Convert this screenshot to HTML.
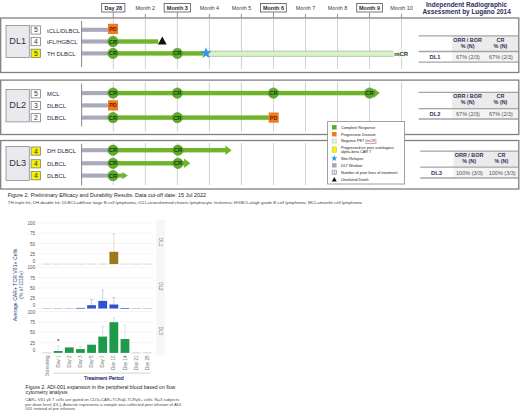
<!DOCTYPE html>
<html><head><meta charset="utf-8"><style>
html,body{margin:0;padding:0;background:#fff;width:520px;height:412px;overflow:hidden;}
svg{display:block;}
text{font-family:"Liberation Sans",sans-serif;}
</style></head><body>
<svg width="520" height="412" viewBox="0 0 520 412">
<rect x="101.70" y="3.6" width="23.20" height="8.4" fill="#fff" stroke="#3d3d3d" stroke-width="0.7"/>
<text x="113.30" y="9.85" font-family="Liberation Sans" font-size="5.5" font-weight="bold" fill="#1f1f38" text-anchor="middle">Day 28</text>
<line x1="113.30" y1="12.4" x2="113.30" y2="18" stroke="#777" stroke-width="0.8"/>
<text x="145.33" y="9.6" font-family="Liberation Sans" font-size="5.4" fill="#3c3c3c" text-anchor="middle">Month 2</text>
<line x1="145.33" y1="13.8" x2="145.33" y2="18" stroke="#777" stroke-width="0.8"/>
<rect x="164.11" y="3.6" width="26.50" height="8.4" fill="#fff" stroke="#3d3d3d" stroke-width="0.7"/>
<text x="177.36" y="9.85" font-family="Liberation Sans" font-size="5.5" font-weight="bold" fill="#1f1f38" text-anchor="middle">Month 3</text>
<line x1="177.36" y1="12.4" x2="177.36" y2="18" stroke="#777" stroke-width="0.8"/>
<text x="209.39" y="9.6" font-family="Liberation Sans" font-size="5.4" fill="#3c3c3c" text-anchor="middle">Month 4</text>
<line x1="209.39" y1="13.8" x2="209.39" y2="18" stroke="#777" stroke-width="0.8"/>
<text x="241.42" y="9.6" font-family="Liberation Sans" font-size="5.4" fill="#3c3c3c" text-anchor="middle">Month 5</text>
<line x1="241.42" y1="13.8" x2="241.42" y2="18" stroke="#777" stroke-width="0.8"/>
<rect x="260.65" y="3.6" width="25.60" height="8.4" fill="#fff" stroke="#3d3d3d" stroke-width="0.7"/>
<text x="273.45" y="9.85" font-family="Liberation Sans" font-size="5.5" font-weight="bold" fill="#1f1f38" text-anchor="middle">Month 6</text>
<line x1="273.45" y1="12.4" x2="273.45" y2="18" stroke="#777" stroke-width="0.8"/>
<text x="305.48" y="9.6" font-family="Liberation Sans" font-size="5.4" fill="#3c3c3c" text-anchor="middle">Month 7</text>
<line x1="305.48" y1="13.8" x2="305.48" y2="18" stroke="#777" stroke-width="0.8"/>
<text x="337.51" y="9.6" font-family="Liberation Sans" font-size="5.4" fill="#3c3c3c" text-anchor="middle">Month 8</text>
<line x1="337.51" y1="13.8" x2="337.51" y2="18" stroke="#777" stroke-width="0.8"/>
<rect x="356.74" y="3.6" width="25.60" height="8.4" fill="#fff" stroke="#3d3d3d" stroke-width="0.7"/>
<text x="369.54" y="9.85" font-family="Liberation Sans" font-size="5.5" font-weight="bold" fill="#1f1f38" text-anchor="middle">Month 9</text>
<line x1="369.54" y1="12.4" x2="369.54" y2="18" stroke="#777" stroke-width="0.8"/>
<text x="401.57" y="9.6" font-family="Liberation Sans" font-size="5.4" fill="#3c3c3c" text-anchor="middle">Month 10</text>
<line x1="401.57" y1="13.8" x2="401.57" y2="18" stroke="#777" stroke-width="0.8"/>
<text x="466.6" y="7.2" font-family="Liberation Sans" font-size="6.45" font-weight="bold" fill="#2f2d5e" text-anchor="middle">Independent Radiographic</text>
<text x="466.6" y="14.4" font-family="Liberation Sans" font-size="6.45" font-weight="bold" fill="#2f2d5e" text-anchor="middle">Assessment by Lugano 2014</text>
<rect x="0.7" y="18" width="518.1" height="54.50" fill="#fff" stroke="#808080" stroke-width="1.3"/>
<line x1="113.30" y1="18.5" x2="113.30" y2="68.8" stroke="#c9c9d2" stroke-width="0.9"/>
<line x1="145.33" y1="18.5" x2="145.33" y2="68.8" stroke="#c9c9d2" stroke-width="0.9"/>
<line x1="177.36" y1="18.5" x2="177.36" y2="68.8" stroke="#c9c9d2" stroke-width="0.9"/>
<line x1="209.39" y1="18.5" x2="209.39" y2="68.8" stroke="#c9c9d2" stroke-width="0.9"/>
<line x1="241.42" y1="18.5" x2="241.42" y2="68.8" stroke="#c9c9d2" stroke-width="0.9"/>
<line x1="273.45" y1="18.5" x2="273.45" y2="68.8" stroke="#c9c9d2" stroke-width="0.9"/>
<line x1="305.48" y1="18.5" x2="305.48" y2="68.8" stroke="#c9c9d2" stroke-width="0.9"/>
<line x1="337.51" y1="18.5" x2="337.51" y2="68.8" stroke="#c9c9d2" stroke-width="0.9"/>
<line x1="369.54" y1="18.5" x2="369.54" y2="68.8" stroke="#c9c9d2" stroke-width="0.9"/>
<line x1="401.57" y1="18.5" x2="401.57" y2="68.8" stroke="#c9c9d2" stroke-width="0.9"/>
<line x1="81.6" y1="21" x2="81.6" y2="67" stroke="#7a7a7a" stroke-width="0.9"/>
<rect x="6" y="25.5" width="23.3" height="32.00" fill="#eaeaee" stroke="#8a8a8a" stroke-width="0.8"/>
<text x="17.8" y="43.70" font-family="Liberation Sans" font-size="9.2" fill="#33334a" text-anchor="middle">DL1</text>
<rect x="31.1" y="25.9" width="9.4" height="8.2" fill="#fff" stroke="#7e7e7e" stroke-width="0.8"/>
<text x="35.8" y="32.45" font-family="Liberation Sans" font-size="6.8" fill="#333" text-anchor="middle">5</text>
<text x="47" y="32.60" font-family="Liberation Sans" font-size="5.9" fill="#2c2c3c">tCLL/DLBCL</text>
<rect x="31.1" y="37.5" width="9.4" height="8.2" fill="#fff" stroke="#7e7e7e" stroke-width="0.8"/>
<text x="35.8" y="44.05" font-family="Liberation Sans" font-size="6.8" fill="#333" text-anchor="middle">4</text>
<text x="47" y="44.30" font-family="Liberation Sans" font-size="5.9" fill="#2c2c3c">tFL/HGBCL</text>
<rect x="31.1" y="49.2" width="9.4" height="8.2" fill="#f4f400" stroke="#7e7e7e" stroke-width="0.8"/>
<text x="35.8" y="55.75" font-family="Liberation Sans" font-size="6.8" fill="#333" text-anchor="middle">5</text>
<text x="47" y="56.20" font-family="Liberation Sans" font-size="5.9" fill="#2c2c3c">TH DLBCL</text>
<rect x="452" y="35.90" width="66" height="15.60" fill="#ebebeb"/>
<rect x="452" y="51.50" width="66" height="10.70" fill="#f3f3f3"/>
<line x1="418.7" y1="35.90" x2="518" y2="35.90" stroke="#a5a5a5" stroke-width="1.3"/>
<line x1="418.7" y1="51.50" x2="518" y2="51.50" stroke="#a5a5a5" stroke-width="1.3"/>
<line x1="418.7" y1="62.20" x2="518" y2="62.20" stroke="#a5a5a5" stroke-width="1.3"/>
<text x="467.60" y="41.80" font-family="Liberation Sans" font-size="5.4" font-weight="bold" fill="#33335a" text-anchor="middle">ORR / BOR</text>
<text x="467.60" y="47.90" font-family="Liberation Sans" font-size="5.4" font-weight="bold" fill="#33335a" text-anchor="middle">% (N)</text>
<text x="500.50" y="41.80" font-family="Liberation Sans" font-size="5.4" font-weight="bold" fill="#33335a" text-anchor="middle">CR</text>
<text x="500.50" y="47.90" font-family="Liberation Sans" font-size="5.4" font-weight="bold" fill="#33335a" text-anchor="middle">% (N)</text>
<text x="435.00" y="58.85" font-family="Liberation Sans" font-size="5.8" font-weight="bold" fill="#33335a" text-anchor="middle">DL1</text>
<text x="468.00" y="58.85" font-family="Liberation Sans" font-size="5.5" fill="#555" text-anchor="middle">67% (2/3)</text>
<text x="501.00" y="58.85" font-family="Liberation Sans" font-size="5.5" fill="#555" text-anchor="middle">67% (2/3)</text>
<rect x="0.7" y="80.1" width="518.1" height="54.40" fill="#fff" stroke="#808080" stroke-width="1.3"/>
<line x1="113.30" y1="82" x2="113.30" y2="131.5" stroke="#c9c9d2" stroke-width="0.9"/>
<line x1="145.33" y1="82" x2="145.33" y2="131.5" stroke="#c9c9d2" stroke-width="0.9"/>
<line x1="177.36" y1="82" x2="177.36" y2="131.5" stroke="#c9c9d2" stroke-width="0.9"/>
<line x1="209.39" y1="82" x2="209.39" y2="131.5" stroke="#c9c9d2" stroke-width="0.9"/>
<line x1="241.42" y1="82" x2="241.42" y2="131.5" stroke="#c9c9d2" stroke-width="0.9"/>
<line x1="273.45" y1="82" x2="273.45" y2="131.5" stroke="#c9c9d2" stroke-width="0.9"/>
<line x1="305.48" y1="82" x2="305.48" y2="131.5" stroke="#c9c9d2" stroke-width="0.9"/>
<line x1="337.51" y1="82" x2="337.51" y2="131.5" stroke="#c9c9d2" stroke-width="0.9"/>
<line x1="369.54" y1="82" x2="369.54" y2="131.5" stroke="#c9c9d2" stroke-width="0.9"/>
<line x1="401.57" y1="82" x2="401.57" y2="131.5" stroke="#c9c9d2" stroke-width="0.9"/>
<line x1="81.6" y1="83.5" x2="81.6" y2="126.5" stroke="#7a7a7a" stroke-width="0.9"/>
<rect x="6" y="89.4" width="23.3" height="32.50" fill="#eaeaee" stroke="#8a8a8a" stroke-width="0.8"/>
<text x="17.8" y="107.85" font-family="Liberation Sans" font-size="9.2" fill="#33334a" text-anchor="middle">DL2</text>
<rect x="31.1" y="89.7" width="9.4" height="8.2" fill="#fff" stroke="#7e7e7e" stroke-width="0.8"/>
<text x="35.8" y="96.25" font-family="Liberation Sans" font-size="6.8" fill="#333" text-anchor="middle">5</text>
<text x="47" y="95.90" font-family="Liberation Sans" font-size="5.9" fill="#2c2c3c">MCL</text>
<rect x="31.1" y="101.5" width="9.4" height="8.2" fill="#fff" stroke="#7e7e7e" stroke-width="0.8"/>
<text x="35.8" y="108.05" font-family="Liberation Sans" font-size="6.8" fill="#333" text-anchor="middle">3</text>
<text x="47" y="108.20" font-family="Liberation Sans" font-size="5.9" fill="#2c2c3c">DLBCL</text>
<rect x="31.1" y="113.6" width="9.4" height="8.2" fill="#fff" stroke="#7e7e7e" stroke-width="0.8"/>
<text x="35.8" y="120.15" font-family="Liberation Sans" font-size="6.8" fill="#333" text-anchor="middle">2</text>
<text x="47" y="120.40" font-family="Liberation Sans" font-size="5.9" fill="#2c2c3c">DLBCL</text>
<rect x="452" y="92.40" width="66" height="16.20" fill="#ebebeb"/>
<rect x="452" y="108.60" width="66" height="10.40" fill="#f3f3f3"/>
<line x1="418.7" y1="92.40" x2="518" y2="92.40" stroke="#a5a5a5" stroke-width="1.3"/>
<line x1="418.7" y1="108.60" x2="518" y2="108.60" stroke="#a5a5a5" stroke-width="1.3"/>
<line x1="418.7" y1="119.00" x2="518" y2="119.00" stroke="#a5a5a5" stroke-width="1.3"/>
<text x="467.60" y="98.30" font-family="Liberation Sans" font-size="5.4" font-weight="bold" fill="#33335a" text-anchor="middle">ORR / BOR</text>
<text x="467.60" y="104.40" font-family="Liberation Sans" font-size="5.4" font-weight="bold" fill="#33335a" text-anchor="middle">% (N)</text>
<text x="500.50" y="98.30" font-family="Liberation Sans" font-size="5.4" font-weight="bold" fill="#33335a" text-anchor="middle">CR</text>
<text x="500.50" y="104.40" font-family="Liberation Sans" font-size="5.4" font-weight="bold" fill="#33335a" text-anchor="middle">% (N)</text>
<text x="435.00" y="115.80" font-family="Liberation Sans" font-size="5.8" font-weight="bold" fill="#33335a" text-anchor="middle">DL2</text>
<text x="468.00" y="115.80" font-family="Liberation Sans" font-size="5.5" fill="#555" text-anchor="middle">67% (2/3)</text>
<text x="501.00" y="115.80" font-family="Liberation Sans" font-size="5.5" fill="#555" text-anchor="middle">67% (2/3)</text>
<rect x="0.7" y="140.5" width="518.1" height="48.50" fill="#fff" stroke="#808080" stroke-width="1.3"/>
<line x1="113.30" y1="143" x2="113.30" y2="185" stroke="#c9c9d2" stroke-width="0.9"/>
<line x1="145.33" y1="143" x2="145.33" y2="185" stroke="#c9c9d2" stroke-width="0.9"/>
<line x1="177.36" y1="143" x2="177.36" y2="185" stroke="#c9c9d2" stroke-width="0.9"/>
<line x1="209.39" y1="143" x2="209.39" y2="185" stroke="#c9c9d2" stroke-width="0.9"/>
<line x1="241.42" y1="143" x2="241.42" y2="185" stroke="#c9c9d2" stroke-width="0.9"/>
<line x1="273.45" y1="143" x2="273.45" y2="185" stroke="#c9c9d2" stroke-width="0.9"/>
<line x1="305.48" y1="143" x2="305.48" y2="185" stroke="#c9c9d2" stroke-width="0.9"/>
<line x1="337.51" y1="143" x2="337.51" y2="185" stroke="#c9c9d2" stroke-width="0.9"/>
<line x1="369.54" y1="143" x2="369.54" y2="185" stroke="#c9c9d2" stroke-width="0.9"/>
<line x1="401.57" y1="143" x2="401.57" y2="185" stroke="#c9c9d2" stroke-width="0.9"/>
<line x1="81.6" y1="143.8" x2="81.6" y2="185.4" stroke="#7a7a7a" stroke-width="0.9"/>
<rect x="6" y="146.4" width="23.3" height="34.20" fill="#eaeaee" stroke="#8a8a8a" stroke-width="0.8"/>
<text x="17.8" y="165.70" font-family="Liberation Sans" font-size="9.2" fill="#33334a" text-anchor="middle">DL3</text>
<rect x="31.1" y="147" width="9.4" height="8.2" fill="#f4f400" stroke="#7e7e7e" stroke-width="0.8"/>
<text x="35.8" y="153.55" font-family="Liberation Sans" font-size="6.8" fill="#333" text-anchor="middle">4</text>
<text x="47" y="153.00" font-family="Liberation Sans" font-size="5.9" fill="#2c2c3c">DH DLBCL</text>
<rect x="31.1" y="159.7" width="9.4" height="8.2" fill="#f4f400" stroke="#7e7e7e" stroke-width="0.8"/>
<text x="35.8" y="166.25" font-family="Liberation Sans" font-size="6.8" fill="#333" text-anchor="middle">4</text>
<text x="47" y="166.10" font-family="Liberation Sans" font-size="5.9" fill="#2c2c3c">DLBCL</text>
<rect x="31.1" y="171.6" width="9.4" height="8.2" fill="#f4f400" stroke="#7e7e7e" stroke-width="0.8"/>
<text x="35.8" y="178.15" font-family="Liberation Sans" font-size="6.8" fill="#333" text-anchor="middle">4</text>
<text x="47" y="178.40" font-family="Liberation Sans" font-size="5.9" fill="#2c2c3c">DLBCL</text>
<rect x="453.5" y="151.10" width="64.5" height="16.00" fill="#ebebeb"/>
<rect x="453.5" y="167.10" width="64.5" height="10.90" fill="#f3f3f3"/>
<line x1="420.2" y1="151.10" x2="518" y2="151.10" stroke="#a5a5a5" stroke-width="1.3"/>
<line x1="420.2" y1="167.10" x2="518" y2="167.10" stroke="#a5a5a5" stroke-width="1.3"/>
<line x1="420.2" y1="178.00" x2="518" y2="178.00" stroke="#a5a5a5" stroke-width="1.3"/>
<text x="469.10" y="157.00" font-family="Liberation Sans" font-size="5.4" font-weight="bold" fill="#33335a" text-anchor="middle">ORR / BOR</text>
<text x="469.10" y="163.10" font-family="Liberation Sans" font-size="5.4" font-weight="bold" fill="#33335a" text-anchor="middle">% (N)</text>
<text x="501.40" y="157.00" font-family="Liberation Sans" font-size="5.4" font-weight="bold" fill="#33335a" text-anchor="middle">CR</text>
<text x="501.40" y="163.10" font-family="Liberation Sans" font-size="5.4" font-weight="bold" fill="#33335a" text-anchor="middle">% (N)</text>
<text x="436.50" y="174.55" font-family="Liberation Sans" font-size="5.8" font-weight="bold" fill="#33335a" text-anchor="middle">DL3</text>
<text x="469.50" y="174.55" font-family="Liberation Sans" font-size="5.5" fill="#555" text-anchor="middle">100% (3/3)</text>
<text x="502.20" y="174.55" font-family="Liberation Sans" font-size="5.5" fill="#555" text-anchor="middle">100% (3/3)</text>
<rect x="82" y="27.75" width="26" height="4.1" fill="#a9a9bb"/>
<rect x="108.00" y="23.80" width="10" height="10.2" fill="#f07b1e"/>
<text x="113.00" y="30.80" font-family="Liberation Sans" font-size="5.5" font-weight="bold" fill="#6e1800" text-anchor="middle">PD</text>
<rect x="82" y="39.45" width="26" height="4.1" fill="#a9a9bb"/>
<rect x="113.30" y="39.30" width="44.90" height="4.4" fill="#6fb42a"/>
<circle cx="113.00" cy="41.50" r="5.15" fill="#5fab2b" stroke="#4b9420" stroke-width="0.6"/>
<text x="113.00" y="43.55" font-family="Liberation Sans" font-size="5.8" font-weight="bold" fill="#123a05" text-anchor="middle">CR</text>
<polygon points="157.9,44.6 162.3,36.6 166.7,44.6" fill="#111"/>
<rect x="82" y="51.35" width="26" height="4.1" fill="#a9a9bb"/>
<rect x="207" y="51.1" width="187" height="5.3" fill="#d9f2c6"/>
<line x1="207" y1="51.1" x2="394" y2="51.1" stroke="#555" stroke-width="0.6" stroke-dasharray="0.8 0.8"/>
<line x1="207" y1="56.4" x2="394" y2="56.4" stroke="#555" stroke-width="0.6" stroke-dasharray="0.8 0.8"/>
<rect x="113.30" y="51.20" width="89.70" height="4.4" fill="#6fb42a"/>
<circle cx="113.00" cy="53.40" r="5.15" fill="#5fab2b" stroke="#4b9420" stroke-width="0.6"/>
<text x="113.00" y="55.45" font-family="Liberation Sans" font-size="5.8" font-weight="bold" fill="#123a05" text-anchor="middle">CR</text>
<circle cx="177.36" cy="53.40" r="5.15" fill="#5fab2b" stroke="#4b9420" stroke-width="0.6"/>
<text x="177.36" y="55.45" font-family="Liberation Sans" font-size="5.8" font-weight="bold" fill="#123a05" text-anchor="middle">CR</text>
<circle cx="401.57" cy="53.40" r="5" fill="#eef8e6"/>
<text x="401.2" y="55.80" font-family="Liberation Sans" font-size="6" font-weight="bold" fill="#333" text-anchor="middle">mCR</text>
<polygon points="206.00,47.70 207.38,51.20 211.14,51.43 208.23,53.83 209.17,57.47 206.00,55.45 202.83,57.47 203.77,53.83 200.86,51.43 204.62,51.20" fill="#2c9be0" stroke="#2a7fc0" stroke-width="0.3"/>
<rect x="82" y="91.05" width="26" height="4.1" fill="#a9a9bb"/>
<rect x="113.30" y="90.90" width="260.80" height="4.4" fill="#6fb42a"/>
<polygon points="373.60,88.30 379.80,93.10 373.60,97.90" fill="#6fb42a"/>
<circle cx="113.00" cy="93.10" r="5.15" fill="#5fab2b" stroke="#4b9420" stroke-width="0.6"/>
<text x="113.00" y="95.15" font-family="Liberation Sans" font-size="5.8" font-weight="bold" fill="#123a05" text-anchor="middle">CR</text>
<circle cx="177.36" cy="93.10" r="5.15" fill="#5fab2b" stroke="#4b9420" stroke-width="0.6"/>
<text x="177.36" y="95.15" font-family="Liberation Sans" font-size="5.8" font-weight="bold" fill="#123a05" text-anchor="middle">CR</text>
<circle cx="273.45" cy="93.10" r="5.15" fill="#5fab2b" stroke="#4b9420" stroke-width="0.6"/>
<text x="273.45" y="95.15" font-family="Liberation Sans" font-size="5.8" font-weight="bold" fill="#123a05" text-anchor="middle">CR</text>
<circle cx="369.54" cy="93.10" r="5.15" fill="#5fab2b" stroke="#4b9420" stroke-width="0.6"/>
<text x="369.54" y="95.15" font-family="Liberation Sans" font-size="5.8" font-weight="bold" fill="#123a05" text-anchor="middle">CR</text>
<rect x="82" y="103.35" width="26" height="4.1" fill="#a9a9bb"/>
<rect x="108.00" y="100.30" width="10" height="10.2" fill="#f07b1e"/>
<text x="113.00" y="107.30" font-family="Liberation Sans" font-size="5.5" font-weight="bold" fill="#6e1800" text-anchor="middle">PD</text>
<rect x="82" y="115.55" width="26" height="4.1" fill="#a9a9bb"/>
<rect x="113.30" y="115.40" width="156.15" height="4.4" fill="#6fb42a"/>
<circle cx="113.00" cy="117.60" r="5.15" fill="#5fab2b" stroke="#4b9420" stroke-width="0.6"/>
<text x="113.00" y="119.65" font-family="Liberation Sans" font-size="5.8" font-weight="bold" fill="#123a05" text-anchor="middle">CR</text>
<circle cx="177.36" cy="117.60" r="5.15" fill="#5fab2b" stroke="#4b9420" stroke-width="0.6"/>
<text x="177.36" y="119.65" font-family="Liberation Sans" font-size="5.8" font-weight="bold" fill="#123a05" text-anchor="middle">CR</text>
<rect x="268.65" y="112.50" width="10" height="10.2" fill="#f07b1e"/>
<text x="273.65" y="119.50" font-family="Liberation Sans" font-size="5.5" font-weight="bold" fill="#6e1800" text-anchor="middle">PD</text>
<rect x="82" y="148.15" width="26" height="4.1" fill="#a9a9bb"/>
<rect x="113.30" y="148.00" width="112.60" height="4.4" fill="#6fb42a"/>
<polygon points="225.40,145.40 231.60,150.20 225.40,155.00" fill="#6fb42a"/>
<circle cx="113.00" cy="150.20" r="5.15" fill="#5fab2b" stroke="#4b9420" stroke-width="0.6"/>
<text x="113.00" y="152.25" font-family="Liberation Sans" font-size="5.8" font-weight="bold" fill="#123a05" text-anchor="middle">CR</text>
<circle cx="177.96" cy="150.20" r="5.15" fill="#5fab2b" stroke="#4b9420" stroke-width="0.6"/>
<text x="177.96" y="152.25" font-family="Liberation Sans" font-size="5.8" font-weight="bold" fill="#123a05" text-anchor="middle">CR</text>
<rect x="82" y="161.25" width="26" height="4.1" fill="#a9a9bb"/>
<rect x="113.30" y="161.10" width="71.30" height="4.4" fill="#6fb42a"/>
<polygon points="184.10,158.50 190.30,163.30 184.10,168.10" fill="#6fb42a"/>
<circle cx="113.00" cy="163.30" r="5.15" fill="#5fab2b" stroke="#4b9420" stroke-width="0.6"/>
<text x="113.00" y="165.35" font-family="Liberation Sans" font-size="5.8" font-weight="bold" fill="#123a05" text-anchor="middle">CR</text>
<circle cx="177.96" cy="163.30" r="5.15" fill="#5fab2b" stroke="#4b9420" stroke-width="0.6"/>
<text x="177.96" y="165.35" font-family="Liberation Sans" font-size="5.8" font-weight="bold" fill="#123a05" text-anchor="middle">CR</text>
<rect x="82" y="173.55" width="26" height="4.1" fill="#a9a9bb"/>
<rect x="113.30" y="173.60" width="9.50" height="4.0" fill="#6fb42a"/>
<polygon points="122.30,172.00 127.90,175.60 122.30,179.20" fill="#6fb42a"/>
<circle cx="113.00" cy="175.60" r="5.15" fill="#5fab2b" stroke="#4b9420" stroke-width="0.6"/>
<text x="113.00" y="177.65" font-family="Liberation Sans" font-size="5.8" font-weight="bold" fill="#123a05" text-anchor="middle">CR</text>
<rect x="327.6" y="121.6" width="77.0" height="62.4" fill="#fff" stroke="#8a8a8a" stroke-width="0.8"/>
<rect x="332" y="125.10" width="4.6" height="4.4" fill="#5aa82c"/>
<text x="340.9" y="128.65" font-family="Liberation Sans" font-size="3.8" fill="#222">Complete Response</text>
<rect x="332" y="132.00" width="4.6" height="4.4" fill="#f07b1e"/>
<text x="340.9" y="135.55" font-family="Liberation Sans" font-size="3.8" fill="#222">Progressive Disease</text>
<rect x="332.2" y="139.10" width="4.2" height="4.0" fill="#e6f6d8" stroke="#777" stroke-width="0.4" stroke-dasharray="0.6 0.4"/>
<text x="340.9" y="142.45" font-family="Liberation Sans" font-size="3.8" fill="#222">Negative PET <tspan fill="#7a2020" text-decoration="underline">(mCR)</tspan></text>
<rect x="332" y="146.90" width="4.8" height="5.6" fill="#f4f400" stroke="#999" stroke-width="0.3"/>
<text x="340.9" y="149.05" font-family="Liberation Sans" font-size="3.8" fill="#222">Progressed on prior autologous</text>
<text x="340.9" y="152.90" font-family="Liberation Sans" font-size="3.8" fill="#222">alpha-beta CAR T</text>
<polygon points="334.30,155.10 335.12,157.17 337.34,157.31 335.63,158.73 336.18,160.89 334.30,159.70 332.42,160.89 332.97,158.73 331.26,157.31 333.48,157.17" fill="#2c9be0"/>
<text x="340.9" y="159.65" font-family="Liberation Sans" font-size="3.8" fill="#222">Skin Relapse</text>
<rect x="332" y="163.10" width="4.6" height="4.4" fill="#a9a9bb"/>
<text x="340.9" y="166.65" font-family="Liberation Sans" font-size="3.8" fill="#222">DLT Window</text>
<rect x="332.1" y="170.10" width="4.4" height="4.4" fill="#fff" stroke="#666" stroke-width="0.5"/>
<text x="334.3" y="173.50" font-family="Liberation Sans" font-size="3.4" fill="#444" text-anchor="middle">X</text>
<text x="340.9" y="173.65" font-family="Liberation Sans" font-size="3.8" fill="#222">Number of prior lines of treatment</text>
<polygon points="331.8,181.50 334.3,176.90 336.8,181.50" fill="#111"/>
<text x="340.9" y="180.65" font-family="Liberation Sans" font-size="3.8" fill="#222">Unrelated Death</text>
<text x="7.8" y="196.7" font-family="Liberation Sans" font-size="5.42" fill="#222">Figure 2. Preliminary Efficacy and Durability Results. Data cut-off date: 15 Jul 2022</text>
<text x="7.8" y="204.0" font-family="Liberation Sans" font-size="4.39" fill="#444">TH-triple hit, DH-double hit; DLBCL=diffuse large B cell lymphoma, tCLL=transformed chronic lymphocytic leukemia; HGBCL=high grade B cell lymphoma; MCL=mantle cell lymphoma</text>
<rect x="37.5" y="220.50" width="115.50" height="45.60" fill="#fff"/>
<line x1="37.5" y1="264.10" x2="153.0" y2="264.10" stroke="#efefef" stroke-width="0.6"/>
<line x1="37.5" y1="253.83" x2="153.0" y2="253.83" stroke="#efefef" stroke-width="0.6"/>
<line x1="37.5" y1="243.55" x2="153.0" y2="243.55" stroke="#efefef" stroke-width="0.6"/>
<line x1="37.5" y1="233.28" x2="153.0" y2="233.28" stroke="#efefef" stroke-width="0.6"/>
<line x1="37.5" y1="223.00" x2="153.0" y2="223.00" stroke="#efefef" stroke-width="0.6"/>
<line x1="37.5" y1="258.96" x2="153.0" y2="258.96" stroke="#f7f7f7" stroke-width="0.4"/>
<line x1="37.5" y1="248.69" x2="153.0" y2="248.69" stroke="#f7f7f7" stroke-width="0.4"/>
<line x1="37.5" y1="238.41" x2="153.0" y2="238.41" stroke="#f7f7f7" stroke-width="0.4"/>
<line x1="37.5" y1="228.14" x2="153.0" y2="228.14" stroke="#f7f7f7" stroke-width="0.4"/>
<text x="35.2" y="225.00" font-family="Liberation Sans" font-size="4.6" fill="#555" text-anchor="end">100</text>
<text x="35.2" y="235.28" font-family="Liberation Sans" font-size="4.6" fill="#555" text-anchor="end">75</text>
<text x="35.2" y="245.55" font-family="Liberation Sans" font-size="4.6" fill="#555" text-anchor="end">50</text>
<text x="35.2" y="255.83" font-family="Liberation Sans" font-size="4.6" fill="#555" text-anchor="end">25</text>
<text x="35.2" y="263.00" font-family="Liberation Sans" font-size="4.6" fill="#555" text-anchor="end">0</text>
<line x1="42.60" y1="264.10" x2="51.40" y2="264.10" stroke="#c4bfa8" stroke-width="0.55"/>
<line x1="53.74" y1="264.10" x2="62.54" y2="264.10" stroke="#c4bfa8" stroke-width="0.55"/>
<line x1="64.88" y1="264.10" x2="73.68" y2="264.10" stroke="#c4bfa8" stroke-width="0.55"/>
<line x1="76.02" y1="264.10" x2="84.82" y2="264.10" stroke="#c4bfa8" stroke-width="0.55"/>
<line x1="87.16" y1="264.10" x2="95.96" y2="264.10" stroke="#c4bfa8" stroke-width="0.55"/>
<line x1="98.30" y1="264.10" x2="107.10" y2="264.10" stroke="#c4bfa8" stroke-width="0.55"/>
<line x1="120.58" y1="264.10" x2="129.38" y2="264.10" stroke="#c4bfa8" stroke-width="0.55"/>
<line x1="131.72" y1="264.10" x2="140.52" y2="264.10" stroke="#c4bfa8" stroke-width="0.55"/>
<line x1="142.86" y1="264.10" x2="151.66" y2="264.10" stroke="#c4bfa8" stroke-width="0.55"/>
<line x1="113.84" y1="233.80" x2="113.84" y2="251.80" stroke="#d9cc9c" stroke-width="0.6"/>
<line x1="112.44" y1="233.80" x2="115.24" y2="233.80" stroke="#d9cc9c" stroke-width="0.6"/>
<rect x="109.44" y="251.80" width="8.8" height="12.30" fill="#9a7a1c"/>
<rect x="156.3" y="220.00" width="8.4" height="46.60" fill="#f6f6f6"/>
<text transform="translate(159.2 242.05) rotate(90)" font-family="Liberation Sans" font-size="4.6" fill="#666" text-anchor="middle">DL1</text>
<rect x="37.5" y="264.90" width="115.50" height="45.60" fill="#fff"/>
<line x1="37.5" y1="308.50" x2="153.0" y2="308.50" stroke="#efefef" stroke-width="0.6"/>
<line x1="37.5" y1="298.23" x2="153.0" y2="298.23" stroke="#efefef" stroke-width="0.6"/>
<line x1="37.5" y1="287.95" x2="153.0" y2="287.95" stroke="#efefef" stroke-width="0.6"/>
<line x1="37.5" y1="277.67" x2="153.0" y2="277.67" stroke="#efefef" stroke-width="0.6"/>
<line x1="37.5" y1="267.40" x2="153.0" y2="267.40" stroke="#efefef" stroke-width="0.6"/>
<line x1="37.5" y1="303.36" x2="153.0" y2="303.36" stroke="#f7f7f7" stroke-width="0.4"/>
<line x1="37.5" y1="293.09" x2="153.0" y2="293.09" stroke="#f7f7f7" stroke-width="0.4"/>
<line x1="37.5" y1="282.81" x2="153.0" y2="282.81" stroke="#f7f7f7" stroke-width="0.4"/>
<line x1="37.5" y1="272.54" x2="153.0" y2="272.54" stroke="#f7f7f7" stroke-width="0.4"/>
<text x="35.2" y="269.40" font-family="Liberation Sans" font-size="4.6" fill="#555" text-anchor="end">100</text>
<text x="35.2" y="279.67" font-family="Liberation Sans" font-size="4.6" fill="#555" text-anchor="end">75</text>
<text x="35.2" y="289.95" font-family="Liberation Sans" font-size="4.6" fill="#555" text-anchor="end">50</text>
<text x="35.2" y="300.23" font-family="Liberation Sans" font-size="4.6" fill="#555" text-anchor="end">25</text>
<text x="35.2" y="307.40" font-family="Liberation Sans" font-size="4.6" fill="#555" text-anchor="end">0</text>
<line x1="42.60" y1="308.50" x2="51.40" y2="308.50" stroke="#a9adc4" stroke-width="0.55"/>
<line x1="53.74" y1="308.50" x2="62.54" y2="308.50" stroke="#a9adc4" stroke-width="0.55"/>
<line x1="64.88" y1="308.50" x2="73.68" y2="308.50" stroke="#a9adc4" stroke-width="0.55"/>
<line x1="131.72" y1="308.50" x2="140.52" y2="308.50" stroke="#a9adc4" stroke-width="0.55"/>
<line x1="142.86" y1="308.50" x2="151.66" y2="308.50" stroke="#a9adc4" stroke-width="0.55"/>
<rect x="76.02" y="307.90" width="8.8" height="0.70" fill="#2f52cf"/>
<line x1="91.56" y1="299.50" x2="91.56" y2="305.20" stroke="#a9b6e6" stroke-width="0.6"/>
<line x1="90.16" y1="299.50" x2="92.96" y2="299.50" stroke="#a9b6e6" stroke-width="0.6"/>
<rect x="87.16" y="305.20" width="8.8" height="3.30" fill="#2f52cf"/>
<line x1="102.70" y1="290.10" x2="102.70" y2="300.90" stroke="#a9b6e6" stroke-width="0.6"/>
<line x1="101.30" y1="290.10" x2="104.10" y2="290.10" stroke="#a9b6e6" stroke-width="0.6"/>
<rect x="98.30" y="300.90" width="8.8" height="7.60" fill="#2f52cf"/>
<line x1="113.84" y1="297.50" x2="113.84" y2="304.50" stroke="#a9b6e6" stroke-width="0.6"/>
<line x1="112.44" y1="297.50" x2="115.24" y2="297.50" stroke="#a9b6e6" stroke-width="0.6"/>
<rect x="109.44" y="304.50" width="8.8" height="4.00" fill="#2f52cf"/>
<rect x="120.58" y="308.10" width="8.8" height="0.70" fill="#2f52cf"/>
<rect x="156.3" y="264.40" width="8.4" height="46.60" fill="#f6f6f6"/>
<text transform="translate(159.2 286.45) rotate(90)" font-family="Liberation Sans" font-size="4.6" fill="#666" text-anchor="middle">DL2</text>
<rect x="37.5" y="309.00" width="115.50" height="45.90" fill="#fff"/>
<line x1="37.5" y1="352.90" x2="153.0" y2="352.90" stroke="#efefef" stroke-width="0.6"/>
<line x1="37.5" y1="342.55" x2="153.0" y2="342.55" stroke="#efefef" stroke-width="0.6"/>
<line x1="37.5" y1="332.20" x2="153.0" y2="332.20" stroke="#efefef" stroke-width="0.6"/>
<line x1="37.5" y1="321.85" x2="153.0" y2="321.85" stroke="#efefef" stroke-width="0.6"/>
<line x1="37.5" y1="311.50" x2="153.0" y2="311.50" stroke="#efefef" stroke-width="0.6"/>
<line x1="37.5" y1="347.72" x2="153.0" y2="347.72" stroke="#f7f7f7" stroke-width="0.4"/>
<line x1="37.5" y1="337.38" x2="153.0" y2="337.38" stroke="#f7f7f7" stroke-width="0.4"/>
<line x1="37.5" y1="327.02" x2="153.0" y2="327.02" stroke="#f7f7f7" stroke-width="0.4"/>
<line x1="37.5" y1="316.68" x2="153.0" y2="316.68" stroke="#f7f7f7" stroke-width="0.4"/>
<text x="35.2" y="313.50" font-family="Liberation Sans" font-size="4.6" fill="#555" text-anchor="end">100</text>
<text x="35.2" y="323.85" font-family="Liberation Sans" font-size="4.6" fill="#555" text-anchor="end">75</text>
<text x="35.2" y="334.20" font-family="Liberation Sans" font-size="4.6" fill="#555" text-anchor="end">50</text>
<text x="35.2" y="344.55" font-family="Liberation Sans" font-size="4.6" fill="#555" text-anchor="end">25</text>
<text x="35.2" y="351.80" font-family="Liberation Sans" font-size="4.6" fill="#555" text-anchor="end">0</text>
<line x1="42.60" y1="352.90" x2="51.40" y2="352.90" stroke="#a8bfae" stroke-width="0.55"/>
<line x1="131.72" y1="352.90" x2="140.52" y2="352.90" stroke="#a8bfae" stroke-width="0.55"/>
<line x1="142.86" y1="352.90" x2="151.66" y2="352.90" stroke="#a8bfae" stroke-width="0.55"/>
<line x1="58.14" y1="346.00" x2="58.14" y2="351.00" stroke="#cfcfcf" stroke-width="0.6"/>
<line x1="56.74" y1="346.00" x2="59.54" y2="346.00" stroke="#cfcfcf" stroke-width="0.6"/>
<rect x="53.74" y="351.00" width="8.8" height="1.90" fill="#1f9a4b"/>
<rect x="64.88" y="347.40" width="8.8" height="5.50" fill="#1f9a4b"/>
<line x1="80.42" y1="346.00" x2="80.42" y2="349.10" stroke="#cfcfcf" stroke-width="0.6"/>
<line x1="79.02" y1="346.00" x2="81.82" y2="346.00" stroke="#cfcfcf" stroke-width="0.6"/>
<rect x="76.02" y="349.10" width="8.8" height="3.80" fill="#1f9a4b"/>
<rect x="87.16" y="344.70" width="8.8" height="8.20" fill="#1f9a4b"/>
<line x1="102.70" y1="326.50" x2="102.70" y2="336.60" stroke="#cfcfcf" stroke-width="0.6"/>
<line x1="101.30" y1="326.50" x2="104.10" y2="326.50" stroke="#cfcfcf" stroke-width="0.6"/>
<rect x="98.30" y="336.60" width="8.8" height="16.30" fill="#1f9a4b"/>
<line x1="113.84" y1="318.00" x2="113.84" y2="322.20" stroke="#cfcfcf" stroke-width="0.6"/>
<line x1="112.44" y1="318.00" x2="115.24" y2="318.00" stroke="#cfcfcf" stroke-width="0.6"/>
<rect x="109.44" y="322.20" width="8.8" height="30.70" fill="#1f9a4b"/>
<line x1="124.98" y1="324.90" x2="124.98" y2="339.00" stroke="#cfcfcf" stroke-width="0.6"/>
<line x1="123.58" y1="324.90" x2="126.38" y2="324.90" stroke="#cfcfcf" stroke-width="0.6"/>
<rect x="120.58" y="339.00" width="8.8" height="13.90" fill="#1f9a4b"/>
<rect x="156.3" y="308.50" width="8.4" height="46.90" fill="#f6f6f6"/>
<text transform="translate(159.2 330.70) rotate(90)" font-family="Liberation Sans" font-size="4.6" fill="#666" text-anchor="middle">DL3</text>
<text x="58.2" y="343.3" font-family="Liberation Sans" font-size="5" font-weight="bold" fill="#333" text-anchor="middle">*</text>
<text transform="translate(48.60 355.4) rotate(-90)" font-family="Liberation Sans" font-size="4.6" fill="#707070" text-anchor="end">Screening</text>
<text transform="translate(59.74 355.4) rotate(-90)" font-family="Liberation Sans" font-size="4.6" fill="#707070" text-anchor="end">Day 1</text>
<text transform="translate(70.88 355.4) rotate(-90)" font-family="Liberation Sans" font-size="4.6" fill="#707070" text-anchor="end">Day 2</text>
<text transform="translate(82.02 355.4) rotate(-90)" font-family="Liberation Sans" font-size="4.6" fill="#707070" text-anchor="end">Day 3</text>
<text transform="translate(93.16 355.4) rotate(-90)" font-family="Liberation Sans" font-size="4.6" fill="#707070" text-anchor="end">Day 5</text>
<text transform="translate(104.30 355.4) rotate(-90)" font-family="Liberation Sans" font-size="4.6" fill="#707070" text-anchor="end">Day 7</text>
<text transform="translate(115.44 355.4) rotate(-90)" font-family="Liberation Sans" font-size="4.6" fill="#707070" text-anchor="end">Day 10</text>
<text transform="translate(126.58 355.4) rotate(-90)" font-family="Liberation Sans" font-size="4.6" fill="#707070" text-anchor="end">Day 14</text>
<text transform="translate(137.72 355.4) rotate(-90)" font-family="Liberation Sans" font-size="4.6" fill="#707070" text-anchor="end">Day 21</text>
<text transform="translate(148.86 355.4) rotate(-90)" font-family="Liberation Sans" font-size="4.6" fill="#707070" text-anchor="end">Day 28</text>
<line x1="53.5" y1="373.1" x2="150.5" y2="373.1" stroke="#dcdcdc" stroke-width="1.1"/>
<text x="103.8" y="379.7" font-family="Liberation Sans" font-size="5.15" fill="#28306e" stroke="#28306e" stroke-width="0.18" text-anchor="middle">Treatment Period</text>
<text transform="translate(16.8 285.0) rotate(-90)" font-family="Liberation Sans" font-size="5.15" fill="#2b3576" text-anchor="middle">Average CAR+ TCR Vδ1+ Cells</text>
<text transform="translate(23.3 284.8) rotate(-90)" font-family="Liberation Sans" font-size="5.0" fill="#2b3576" text-anchor="middle">(% of CD3+)</text>
<text x="25.6" y="388.8" font-family="Liberation Sans" font-size="5.12" fill="#222">Figure 2. ADI-001 expansion in the peripheral blood based on flow</text>
<text x="25.6" y="394.0" font-family="Liberation Sans" font-size="5.12" fill="#222">cytometry analysis</text>
<text x="25.3" y="401.2" font-family="Liberation Sans" font-size="4.22" fill="#4a4a4a">CAR+ Vδ1 γδ T cells are gated on CD3+CAR+TCRαβ-TCRγδ+ cells. N=3 subjects</text>
<text x="25.3" y="405.5" font-family="Liberation Sans" font-size="4.22" fill="#4a4a4a">per dose level (DL). Asterisk represents a sample was collected post infusion of ADI-</text>
<text x="25.3" y="409.8" font-family="Liberation Sans" font-size="4.22" fill="#4a4a4a">001 instead of pre-infusion.</text>
</svg>
</body></html>
